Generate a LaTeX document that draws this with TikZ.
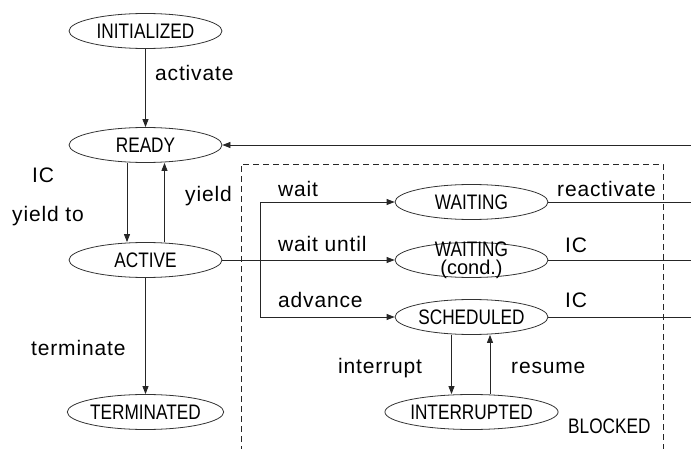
\documentclass[tikz,border=0pt]{standalone}
\usepackage{fontspec}
\setmainfont[LetterSpace=4]{Liberation Sans}
\newfontfamily\stfont[FakeStretch=0.82]{Liberation Sans}
\newfontfamily\condfont{Liberation Sans}
\usetikzlibrary{shapes.geometric,arrows.meta}
\begin{document}
\begin{tikzpicture}[x=1pt,y=-1pt,
  st/.style={ellipse,draw=black!80,line width=0.8pt,minimum width=153pt,minimum height=35pt,inner sep=0pt,font=\stfont\fontsize{21}{21}\selectfont},
  lbl/.style={anchor=base west,inner sep=0pt,font=\fontsize{21}{21}\selectfont},
  conn/.style={draw=black!85,line width=0.8pt},
  arr/.style={conn,-{Triangle[length=8pt,width=6pt]}},
  blockbox/.style={draw=black!85,line width=0.8pt,dash pattern=on 6pt off 4pt},
]
\useasboundingbox (0,0) rectangle (691,449);
% states
\node[st] (init) at (145.5,31) {INITIALIZED};
\node[st] (ready) at (145.5,145) {READY};
\node[st] (active) at (145.5,260) {ACTIVE};
\node[st] (term) at (145.5,412) {TERMINATED};
\node[st] (wait) at (471.5,202) {WAITING};
\node[st] (waitc) at (471.5,260) {\raisebox{-14.2pt}[0pt][0pt]{\shortstack{{\stfont\fontsize{21}{21}\selectfont WAITING}\\{\condfont\fontsize{20}{20}\selectfont (cond.)}}}};
\node[st] (sched) at (471.5,317) {SCHEDULED};
\node[st] (intr) at (471.5,412) {INTERRUPTED};
% blocked region
\draw[blockbox] (241,452) -- (241,164) -- (663,164) -- (663,452);
% free ends
\coordinate (rR) at (691,145);
\coordinate (rW) at (691,202);
\coordinate (rC) at (691,260);
\coordinate (rS) at (691,317);
\coordinate (br) at (260,260);
% connectors
\draw[arr] (init) -- (ready);
\draw[arr] ([xshift=-18.5pt]ready.south) -- ([xshift=-18.5pt]active.north);
\draw[arr] ([xshift=19pt]active.north) -- ([xshift=19pt]ready.south);
\draw[arr] (active) -- (term);
\draw[arr] (rR) -- (ready);
\draw[arr] (active) -- (waitc);
\draw[arr] (br) |- (wait);
\draw[arr] (br) |- (sched);
\draw[conn] (wait) -- (rW);
\draw[conn] (waitc) -- (rC);
\draw[conn] (sched) -- (rS);
\draw[arr] ([xshift=-20pt]sched.south) -- ([xshift=-20pt]intr.north);
\draw[arr] ([xshift=18.5pt]intr.north) -- ([xshift=18.5pt]sched.south);
% labels
\node[lbl] (lactivate) at (155,81) {activate};
\node[lbl] (lic) at (32,183) {IC};
\node[lbl] (lyieldto) at (12,222) {yield to};
\node[lbl] (lyield) at (185,202) {yield};
\node[lbl] (lterminate) at (31,355) {terminate};
\node[lbl] (lwait) at (278,197) {wait};
\node[lbl] (lwaituntil) at (278,252) {wait until};
\node[lbl] (ladvance) at (278,308) {advance};
\node[lbl] (lreact) at (557,197) {reactivate};
\node[lbl] (lic2) at (565,253) {IC};
\node[lbl] (lic3) at (565,307) {IC};
\node[lbl] (linterrupt) at (338,373) {interrupt};
\node[lbl] (lresume) at (511,373) {resume};
\node[lbl,font=\stfont\fontsize{21}{21}\selectfont] (lblocked) at (568,433) {BLOCKED};
\end{tikzpicture}
\end{document}
